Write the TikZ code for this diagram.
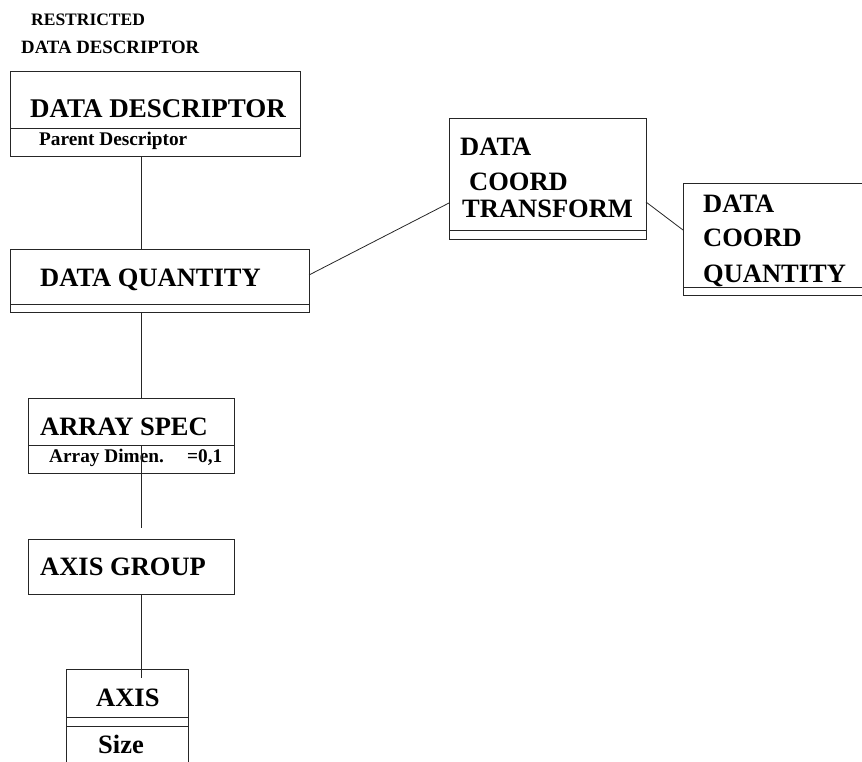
\documentclass[tikz,border=0pt]{standalone}
\usepackage{fontspec}
\setmainfont{Liberation Serif}
\begin{document}
\begin{tikzpicture}[x=1pt,y=-1pt,
  box/.style={draw=black!85,line width=0.9pt,inner sep=0pt,outer sep=0pt},
  conn/.style={draw=black!85,line width=0.8pt},
  big/.style={anchor=base west,inner sep=0pt,font=\bfseries\fontsize{26.5}{30}\selectfont},
  small/.style={anchor=base west,inner sep=0pt,font=\bfseries\fontsize{19.3}{22}\selectfont},
  lab/.style={anchor=base west,inner sep=0pt,font=\bfseries\fontsize{17.5}{20}\selectfont}]
\useasboundingbox (0,0) rectangle (862,761);
\clip (0,0) rectangle (862,761);
% boxes: (left,top) to (right,bottom)
\node[box,minimum width=290pt,minimum height=85pt] (dd) at (155,113.5) {};
\node[box,minimum width=299pt,minimum height=63pt] (dq) at (159.5,280.5) {};
\node[box,minimum width=197pt,minimum height=121pt] (dct) at (547.5,178.5) {};
\node[box,minimum width=181pt,minimum height=112pt] (dcq) at (773.5,239) {};
\node[box,minimum width=206pt,minimum height=75pt] (as) at (131,435.5) {};
\node[box,minimum width=206pt,minimum height=55pt] (ag) at (131,566.5) {};
\node[box,minimum width=122pt,minimum height=111pt] (ax) at (127,724.5) {};
% dividers
\coordinate (ddl) at (10,128);
\coordinate (dql) at (10,304);
\coordinate (dctl) at (449,230);
\coordinate (dcql) at (683,287);
\coordinate (asl) at (28,445);
\coordinate (axl1) at (66,717);
\coordinate (axl2) at (66,726);
\draw[box] (ddl) -- (ddl -| dd.east);
\draw[box] (dql) -- (dql -| dq.east);
\draw[box] (dctl) -- (dctl -| dct.east);
\draw[box] (dcql) -- (dcql -| dcq.east);
\draw[box] (asl) -- (asl -| as.east);
\draw[box] (axl1) -- (axl1 -| ax.east);
\draw[box] (axl2) -- (axl2 -| ax.east);
% texts
\node[lab] (t1) at (31,25) {RESTRICTED};
\node[lab,font=\bfseries\fontsize{18.8}{20}\selectfont] (t2) at (21,53) {DATA DESCRIPTOR};
\node[big,font=\bfseries\fontsize{27}{30}\selectfont] (t3) at (30,117) {DATA DESCRIPTOR};
\node[small] (t4) at (39,145) {Parent Descriptor};
\node[big] (t5) at (40,286) {DATA QUANTITY};
\node[big] (t6) at (460,155) {DATA};
\node[big] (t7) at (469,190) {COORD};
\node[big] (t8) at (462,217) {TRANSFORM};
\node[big] (t9) at (703,212) {DATA};
\node[big] (t10) at (703,246) {COORD};
\node[big] (t11) at (703,282) {QUANTITY};
\node[big] (t12) at (40,435) {ARRAY SPEC};
\node[small] (t13) at (49,462) {Array Dimen.};
\node[small] (t14) at (187,462) {=0,1};
\node[big] (t15) at (40,575) {AXIS GROUP};
\node[big] (t16) at (96,706) {AXIS};
\node[big] (t17) at (98,753) {Size};
% connectors
\coordinate (vx) at (141.5,0);
\coordinate (e1) at (141.5,528);
\coordinate (e2) at (141.5,678);
\draw[conn] (dd.south -| vx) -- (dq.north -| vx);
\draw[conn] (dq.south -| vx) -- (as.north -| vx);
\draw[conn] (asl -| vx) -- (e1);
\draw[conn] (ag.south -| vx) -- (e2);
\draw[conn] ([yshift=5.5pt]dq.east) -- ([yshift=-24.5pt]dct.west);
\draw[conn] ([yshift=-23.5pt]dct.east) -- ([yshift=9pt]dcq.west);
\end{tikzpicture}
\end{document}
